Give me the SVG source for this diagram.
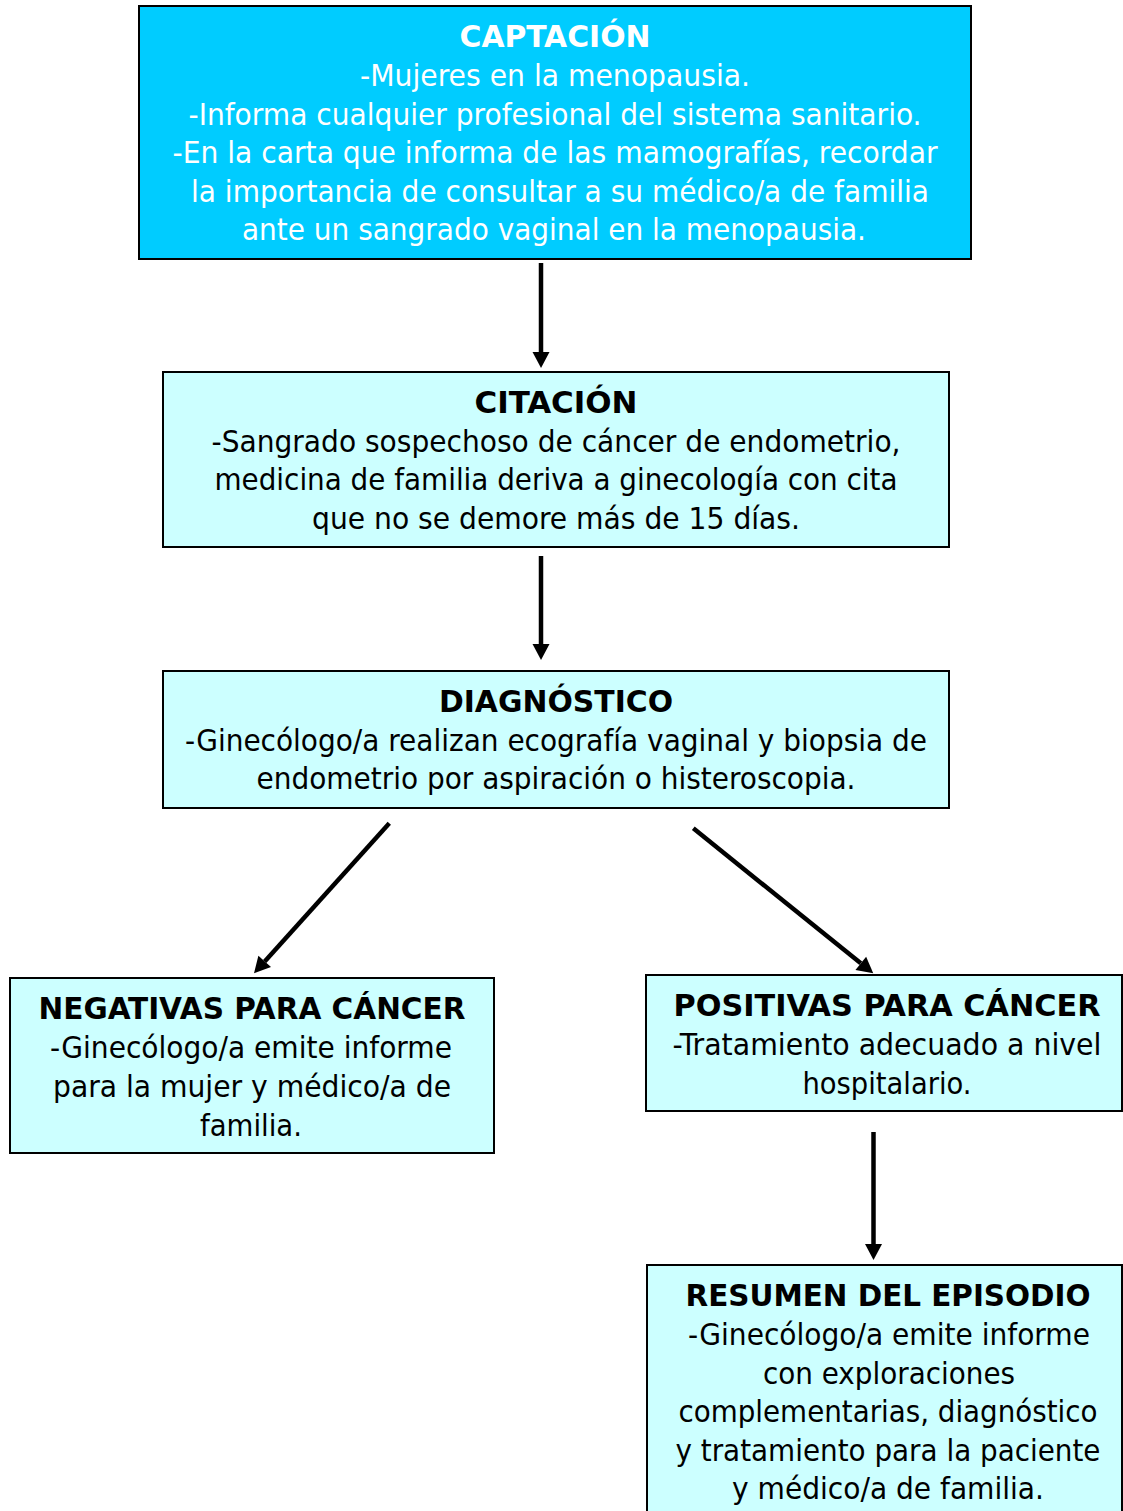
<svg xmlns="http://www.w3.org/2000/svg" width="1123" height="1511" viewBox="0 0 1123 1511">
<style>
.box{stroke:#000;stroke-width:2}
.b1{fill:#00CCFF}
.b2{fill:#CCFFFF}
text{font-family:"DejaVu Sans Condensed","DejaVu Sans",Verdana,sans-serif;font-size:30px;text-anchor:middle;fill:#000}
.t{font-weight:bold}
.w{fill:#fff}
.c{stroke:#000;stroke-width:4.5;fill:none}
</style>
<defs>
<marker id="ah" markerUnits="userSpaceOnUse" markerWidth="16" markerHeight="17" refX="0" refY="8.5" orient="auto" overflow="visible">
<path d="M0,0 L16,8.5 L0,17 z" fill="#000"/>
</marker>
</defs>
<rect width="1123" height="1511" fill="#fff"/>
<g id="captacion">
<rect class="box b1" x="139" y="6" width="832" height="253"/>
<text class="t w" x="555" y="47" textLength="191" lengthAdjust="spacingAndGlyphs">CAPTACIÓN</text>
<text class="w" x="555" y="86" textLength="390" lengthAdjust="spacingAndGlyphs">-Mujeres en la menopausia.</text>
<text class="w" x="555" y="125" textLength="733" lengthAdjust="spacingAndGlyphs">-Informa cualquier profesional del sistema sanitario.</text>
<text class="w" x="555" y="163" textLength="765" lengthAdjust="spacingAndGlyphs">-En la carta que informa de las mamografías, recordar</text>
<text class="w" x="560" y="202" textLength="738" lengthAdjust="spacingAndGlyphs">la importancia de consultar a su médico/a de familia</text>
<text class="w" x="554" y="240" textLength="624" lengthAdjust="spacingAndGlyphs">ante un sangrado vaginal en la menopausia.</text>
</g>
<g id="citacion">
<rect class="box b2" x="163" y="372" width="786" height="175"/>
<text class="t" x="556" y="413" textLength="163" lengthAdjust="spacingAndGlyphs">CITACIÓN</text>
<text x="556" y="452" textLength="689" lengthAdjust="spacingAndGlyphs">-Sangrado sospechoso de cáncer de endometrio,</text>
<text x="556" y="490" textLength="683" lengthAdjust="spacingAndGlyphs">medicina de familia deriva a ginecología con cita</text>
<text x="556" y="529" textLength="488" lengthAdjust="spacingAndGlyphs">que no se demore más de 15 días.</text>
</g>
<g id="diagnostico">
<rect class="box b2" x="163" y="671" width="786" height="137"/>
<text class="t" x="556" y="712" textLength="234" lengthAdjust="spacingAndGlyphs">DIAGNÓSTICO</text>
<text x="556" y="751" textLength="742" lengthAdjust="spacingAndGlyphs">-Ginecólogo/a realizan ecografía vaginal y biopsia de</text>
<text x="556" y="789" textLength="599" lengthAdjust="spacingAndGlyphs">endometrio por aspiración o histeroscopia.</text>
</g>
<g id="negativas">
<rect class="box b2" x="10" y="978" width="484" height="175"/>
<text class="t" x="252" y="1019" textLength="427" lengthAdjust="spacingAndGlyphs">NEGATIVAS PARA CÁNCER</text>
<text x="251" y="1058" textLength="402" lengthAdjust="spacingAndGlyphs">-Ginecólogo/a emite informe</text>
<text x="252" y="1097" textLength="398" lengthAdjust="spacingAndGlyphs">para la mujer y médico/a de</text>
<text x="251" y="1136" textLength="102" lengthAdjust="spacingAndGlyphs">familia.</text>
</g>
<g id="positivas">
<rect class="box b2" x="646" y="975" width="476" height="136"/>
<text class="t" x="887" y="1016" textLength="427" lengthAdjust="spacingAndGlyphs">POSITIVAS  PARA CÁNCER</text>
<text x="887" y="1055" textLength="429" lengthAdjust="spacingAndGlyphs">-Tratamiento adecuado a nivel</text>
<text x="887" y="1094" textLength="169" lengthAdjust="spacingAndGlyphs">hospitalario.</text>
</g>
<g id="resumen">
<rect class="box b2" x="647" y="1265" width="475" height="260"/>
<text class="t" x="888" y="1306" textLength="405" lengthAdjust="spacingAndGlyphs">RESUMEN DEL EPISODIO</text>
<text x="889" y="1345" textLength="402" lengthAdjust="spacingAndGlyphs">-Ginecólogo/a emite informe</text>
<text x="889" y="1384" textLength="252" lengthAdjust="spacingAndGlyphs">con exploraciones</text>
<text x="888" y="1422" textLength="419" lengthAdjust="spacingAndGlyphs">complementarias, diagnóstico</text>
<text x="888" y="1461" textLength="425" lengthAdjust="spacingAndGlyphs">y tratamiento para la paciente</text>
<text x="888" y="1499" textLength="312" lengthAdjust="spacingAndGlyphs">y médico/a de familia.</text>
</g>
<g id="connectors">
<line class="c" x1="541" y1="263" x2="541" y2="352" marker-end="url(#ah)"/>
<line class="c" x1="541" y1="556" x2="541" y2="644" marker-end="url(#ah)"/>
<line class="c" x1="389.3" y1="823.3" x2="264.7" y2="961.4" marker-end="url(#ah)"/>
<line class="c" x1="693.3" y1="828.3" x2="860.8" y2="963.3" marker-end="url(#ah)"/>
<line class="c" x1="873.5" y1="1132" x2="873.5" y2="1244" marker-end="url(#ah)"/>
</g>
</svg>
